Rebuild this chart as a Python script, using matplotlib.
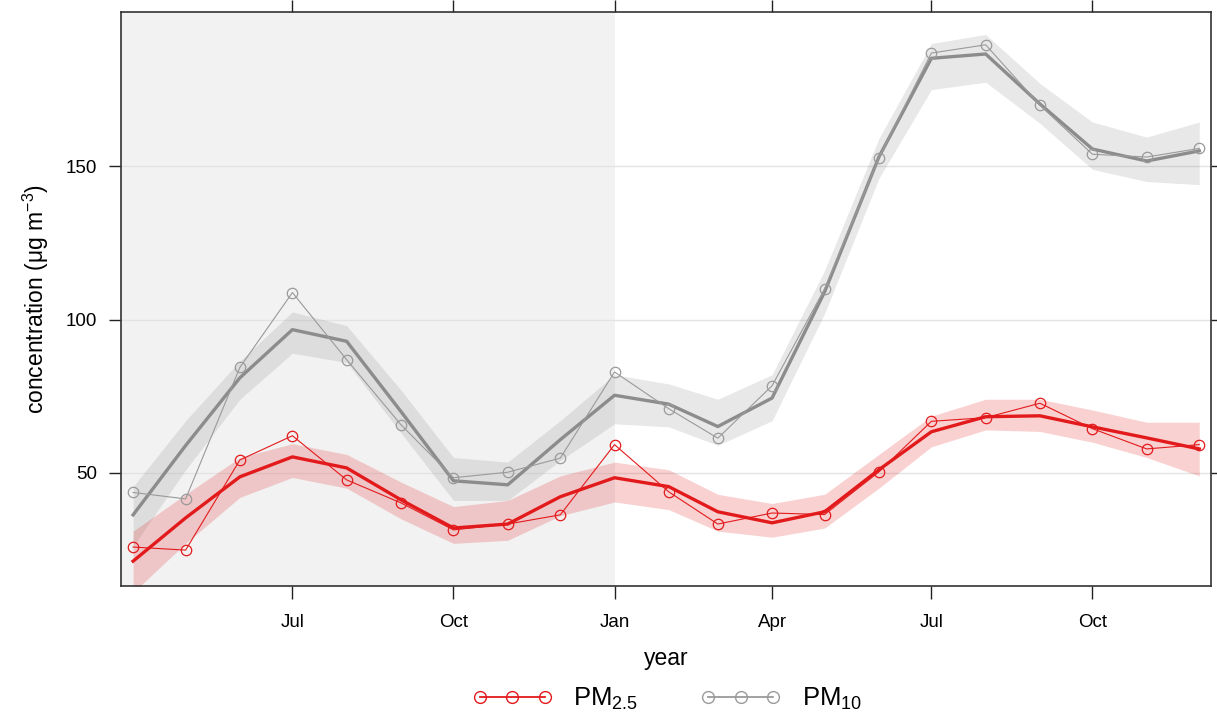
import matplotlib
matplotlib.use("Agg")
import matplotlib.pyplot as plt
import matplotlib.dates as mdates
from matplotlib.lines import Line2D
import numpy as np
import datetime as dt

plt.rcParams['font.family'] = ['Liberation Sans', 'DejaVu Sans']
plt.rcParams['mathtext.default'] = 'regular'

# ---- data ----
months = ["2013-04", "2013-05", "2013-06", "2013-07", "2013-08", "2013-09", "2013-10",
          "2013-11", "2013-12", "2014-01", "2014-02", "2014-03", "2014-04", "2014-05",
          "2014-06", "2014-07", "2014-08", "2014-09", "2014-10", "2014-11", "2014-12"]

pm25_raw = [25.8, 24.8, 54.2, 62.1, 47.7, 40.2, 31.4, 33.3, 36.3, 59.2, 43.8,
            33.3, 36.9, 36.4, 50.3, 66.8, 68.0, 72.7, 64.4, 57.8, 59.2]
pm25_fit = [21.2, 35.3, 48.7, 55.2, 51.6, 41.2, 32.0, 33.3, 42.2, 48.4, 45.5,
            37.3, 33.7, 37.3, 51.0, 63.4, 68.3, 68.6, 65.0, 61.4, 57.8]
pm25_lo = [11.0, 27.0, 42.0, 48.5, 45.0, 35.0, 27.0, 28.0, 36.0, 40.5, 38.0,
           31.0, 29.0, 32.0, 45.0, 58.5, 64.0, 63.5, 60.0, 55.0, 49.0]
pm25_hi = [31.0, 43.0, 55.0, 59.5, 56.0, 47.0, 39.0, 41.0, 49.0, 53.5, 51.0,
           43.0, 40.0, 43.0, 56.0, 68.5, 74.0, 74.0, 70.5, 66.5, 66.5]

pm10_raw = [43.6, 41.5, 84.4, 108.8, 86.9, 65.7, 48.4, 50.2, 54.8, 82.9, 70.9,
            61.3, 78.4, 110.0, 152.8, 186.9, 189.6, 169.9, 153.9, 153.0, 155.8]
pm10_fit = [36.3, 58.9, 81.0, 96.7, 92.9, 70.0, 47.4, 46.1, 60.8, 75.3, 72.4,
            65.1, 74.4, 109.0, 153.0, 185.2, 186.6, 170.3, 155.6, 151.7, 155.0]
pm10_lo = [26.0, 51.0, 74.0, 89.0, 86.0, 63.0, 41.0, 41.0, 54.0, 66.0, 65.0,
           59.0, 67.0, 102.0, 146.0, 175.0, 177.4, 164.0, 149.0, 145.0, 144.0]
pm10_hi = [45.5, 67.0, 86.5, 102.5, 98.0, 77.0, 55.0, 53.5, 67.0, 82.0, 79.0,
           74.0, 82.0, 116.0, 159.0, 190.0, 193.0, 177.0, 164.4, 159.5, 164.4]

tick_dates = ["2013-07", "2013-10", "2014-01", "2014-04", "2014-07", "2014-10"]
tick_labels = ["Jul", "Oct", "Jan", "Apr", "Jul", "Oct"]
y_ticks = [50, 100, 150]

dates = [dt.datetime.strptime(m, "%Y-%m") for m in months]
tdates = [dt.datetime.strptime(m, "%Y-%m") for m in tick_dates]

RED = '#e31a1c'
GREY = '#8c8c8c'
GREY_RAW = '#9a9a9a'

fig = plt.figure(figsize=(12.17, 7.19), dpi=100)
ax = fig.add_axes([0.0993, 0.1850, 0.8956, 0.7979])

x0 = dt.datetime(2013, 7, 1) - dt.timedelta(days=98)
x1 = dt.datetime(2014, 7, 1) + dt.timedelta(days=159.6)
ax.set_xlim(x0, x1)
ax.set_ylim(13.1, 200.2)

ax.axvspan(x0, dt.datetime(2014, 1, 1), color='#f2f2f2', lw=0, zorder=0)
for yv in y_ticks:
    ax.axhline(yv, color='#e3e3e3', lw=1.0, zorder=0.5)

# PM10
ax.fill_between(dates, pm10_lo, pm10_hi, color=GREY, alpha=0.2, lw=0, zorder=1)
ax.plot(dates, pm10_fit, color=GREY, lw=2.4, zorder=2)
ax.plot(dates, pm10_raw, color=GREY_RAW, lw=0.8, marker='o', ms=7.5, mfc='none',
        mec=GREY_RAW, mew=0.9, zorder=3)
# PM2.5
ax.fill_between(dates, pm25_lo, pm25_hi, color=RED, alpha=0.2, lw=0, zorder=1.1)
ax.plot(dates, pm25_fit, color=RED, lw=2.4, zorder=2.1)
ax.plot(dates, pm25_raw, color=RED, lw=0.8, marker='o', ms=7.5, mfc='none',
        mec=RED, mew=0.9, zorder=3.1)

ax.set_xticks(tdates)
ax.set_xticklabels(tick_labels)
ax.set_yticks(y_ticks)
ax.tick_params(axis='both', which='both', direction='out', length=9, width=1.0,
               color='#222222', labelsize=13.5, pad=8, top=True, right=True,
               labeltop=False, labelright=False)
ax.tick_params(axis='x', pad=11)
for s in ax.spines.values():
    s.set_color('#333333')
    s.set_linewidth(1.2)

ax.set_xlabel('year', fontsize=16.5, labelpad=12)
ax.set_ylabel('concentration (μg m$^{-3}$)', fontsize=16.5, labelpad=11)

handles = [Line2D([], [], color=RED, lw=1.3, marker='o', ms=8.5, mfc='none', mec=RED, mew=1.0),
           Line2D([], [], color=GREY_RAW, lw=1.3, marker='o', ms=8.5, mfc='none', mec=GREY_RAW, mew=1.0)]
fig.legend(handles, ['PM$_{2.5}$', 'PM$_{10}$'], loc='center', bbox_to_anchor=(0.548, 0.028),
           ncol=2, frameon=False, numpoints=3, handlelength=3.15, handletextpad=0.8,
           columnspacing=2.4, fontsize=18.5)

fig.savefig('out.png', dpi=100)
